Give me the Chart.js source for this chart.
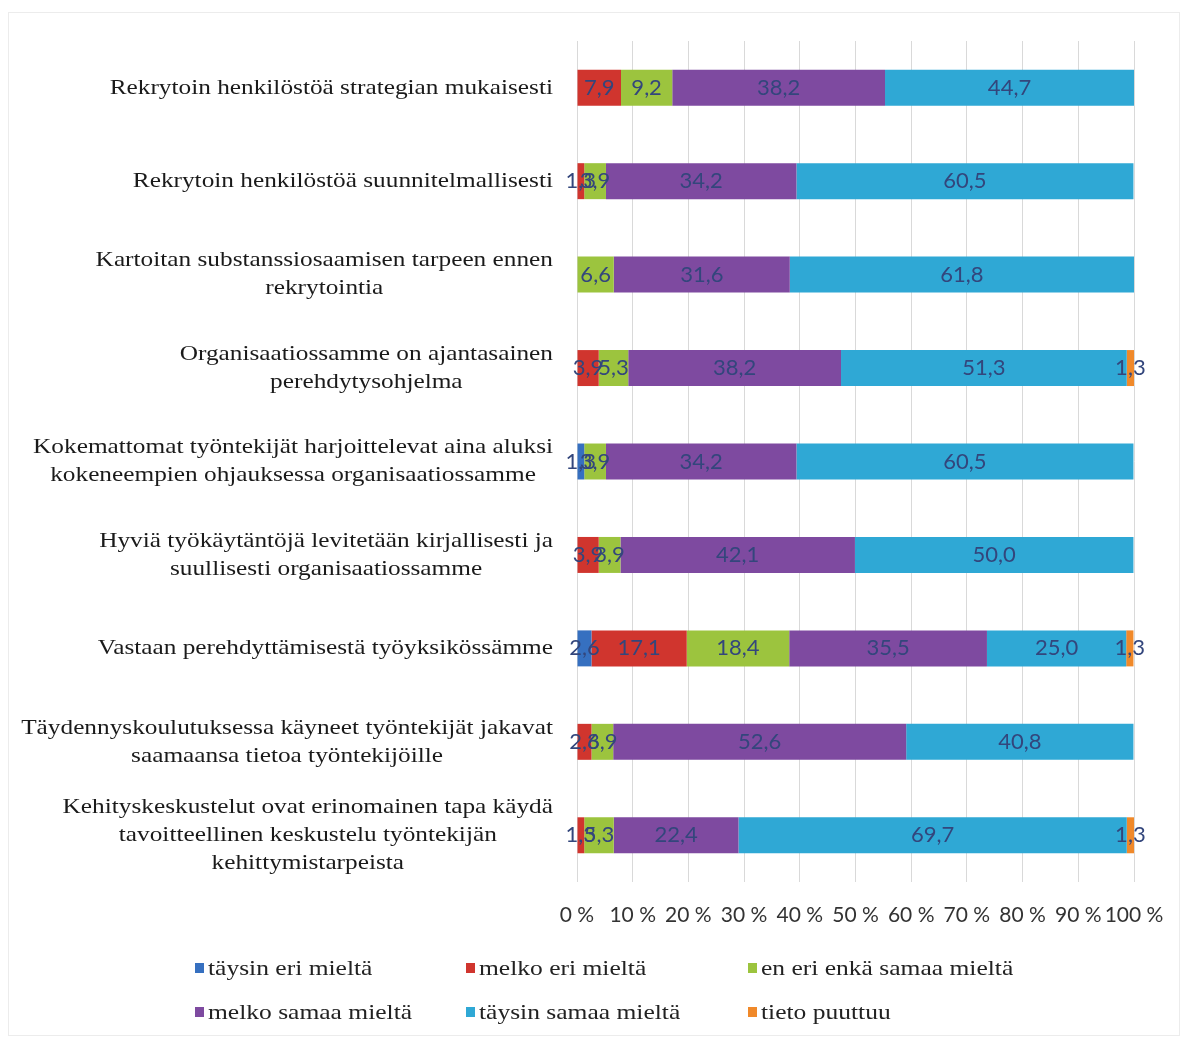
<!DOCTYPE html>
<html>
<head>
<meta charset="utf-8">
<script src="https://cdn.jsdelivr.net/npm/chart.js@4.4.1/dist/chart.umd.min.js"></script>
<style>
  html, body { margin: 0; padding: 0; background: #fff; }
  #wrap { position: relative; width: 1186px; height: 1041px; overflow: hidden; }
  #frame { position: absolute; left: 8px; top: 12px; width: 1172px; height: 1024px; border: 1px solid #ececec; box-sizing: border-box; }
  #chart { position: absolute; left: 0; top: 0; }
  #legend { position: absolute; left: 0; top: 0; width: 1186px; height: 1041px;
    font-family: 'Liberation Serif', 'Times New Roman', serif; font-size: 22px; color: #222; }
  .item { position: absolute; display: flex; align-items: center; white-space: nowrap; line-height: 26px; }
  .box { width: 9px; height: 10px; margin-right: 4px; flex: none; }
  .txt { display: inline-block; transform: scaleX(1.16); transform-origin: left center; }
</style>
</head>
<body>
<div id="wrap">
  <div id="frame"></div>
  <canvas id="chart" width="1186" height="945"></canvas>
  <div id="legend"></div>
</div>
<script>
// ============================================
// DATA
// ============================================
const categories = [
  ['Rekrytoin henkilöstöä strategian mukaisesti'],
  ['Rekrytoin henkilöstöä suunnitelmallisesti'],
  ['Kartoitan substanssiosaamisen tarpeen ennen', 'rekrytointia'],
  ['Organisaatiossamme on ajantasainen', 'perehdytysohjelma'],
  ['Kokemattomat työntekijät harjoittelevat aina aluksi', 'kokeneempien ohjauksessa organisaatiossamme'],
  ['Hyviä työkäytäntöjä levitetään kirjallisesti ja', 'suullisesti organisaatiossamme'],
  ['Vastaan perehdyttämisestä työyksikössämme'],
  ['Täydennyskoulutuksessa käyneet työntekijät jakavat', 'saamaansa tietoa työntekijöille'],
  ['Kehityskeskustelut ovat erinomainen tapa käydä', 'tavoitteellinen keskustelu työntekijän', 'kehittymistarpeista']
];

const seriesNames = ['täysin eri mieltä', 'melko eri mieltä', 'en eri enkä samaa mieltä',
  'melko samaa mieltä', 'täysin samaa mieltä', 'tieto puuttuu'];
const seriesColors = ['#3670c0', '#d0352e', '#9cc43e', '#7e4aa0', '#2fa8d5', '#f0892a'];

const taysinEri    = [0, 0, 0, 0, 1.3, 0, 2.6, 0, 0];
const melkoEri     = [7.9, 1.3, 0, 3.9, 0, 3.9, 17.1, 2.6, 1.3];
const enEriEnka    = [9.2, 3.9, 6.6, 5.3, 3.9, 3.9, 18.4, 3.9, 5.3];
const melkoSamaa   = [38.2, 34.2, 31.6, 38.2, 34.2, 42.1, 35.5, 52.6, 22.4];
const taysinSamaa  = [44.7, 60.5, 61.8, 51.3, 60.5, 50.0, 25.0, 40.8, 69.7];
const tietoPuuttuu = [0, 0, 0, 1.3, 0, 0, 1.3, 0, 1.3];

const seriesValues = [taysinEri, melkoEri, enEriEnka, melkoSamaa, taysinSamaa, tietoPuuttuu];

// ============================================
// PLUGINS
// ============================================
// value labels in the middle of each segment, finnish decimal comma
const valueLabels = {
  id: 'valueLabels',
  afterDatasetsDraw(chart) {
    const ctx = chart.ctx;
    ctx.save();
    ctx.font = '22px Lato';
    ctx.fillStyle = '#33467c';
    ctx.textAlign = 'center';
    ctx.textBaseline = 'middle';
    chart.data.datasets.forEach((ds, di) => {
      chart.getDatasetMeta(di).data.forEach((bar, i) => {
        const v = ds.data[i];
        if (!v) return;
        ctx.fillText(v.toFixed(1).replace('.', ','), (bar.x + bar.base) / 2, bar.y);
      });
    });
    ctx.restore();
  }
};

// category labels: block right aligned, lines centred inside the block
// (text is a bit stretched sideways in the original, hence the scale)
const categoryLabels = {
  id: 'categoryLabels',
  afterDraw(chart) {
    const ctx = chart.ctx;
    const yScale = chart.scales.y;
    const right = chart.chartArea.left - 24;
    const lineH = 28;
    const sx = 1.15;
    ctx.save();
    ctx.font = '22px "Liberation Serif"';
    ctx.fillStyle = '#1a1a1a';
    ctx.textAlign = 'center';
    ctx.textBaseline = 'middle';
    ctx.scale(sx, 1);
    categories.forEach((lines, i) => {
      const w = Math.max(...lines.map(l => ctx.measureText(l).width)) * sx;
      const cx = right - w / 2;
      const cy = yScale.getPixelForValue(i);
      lines.forEach((l, k) => ctx.fillText(l, cx / sx, cy + (k - (lines.length - 1) / 2) * lineH));
    });
    ctx.restore();
  }
};

// ============================================
// CHART
// ============================================
new Chart(document.getElementById('chart'), {
  type: 'bar',
  data: {
    labels: categories,
    datasets: seriesNames.map((name, i) => ({
      label: name,
      data: seriesValues[i],
      backgroundColor: seriesColors[i],
      borderWidth: 0,
      categoryPercentage: 1,
      barPercentage: 0.385
    }))
  },
  options: {
    indexAxis: 'y',
    responsive: false,
    animation: false,
    layout: { padding: { top: 41, right: 52, bottom: 0, left: 0 } },
    plugins: { legend: { display: false }, tooltip: { enabled: false } },
    scales: {
      x: {
        stacked: true, min: 0, max: 100,
        afterFit: (s) => { s.height = 63; },
        grid: { color: '#d9d9d9', drawTicks: false },
        border: { display: false },
        ticks: {
          stepSize: 10, padding: 21, color: '#333',
          maxRotation: 0, minRotation: 0, autoSkip: false,
          font: { family: 'Lato', size: 21 },
          callback: (v) => v + ' %'
        }
      },
      y: {
        stacked: true,
        afterFit: (s) => { s.width = 577; },
        grid: { display: false },
        border: { display: false },
        ticks: { display: false }
      }
    }
  },
  plugins: [valueLabels, categoryLabels]
});

// ============================================
// LEGEND (html)
// ============================================
const legendCols = [195, 466, 748];
const legendRows = [955, 999];
const legend = document.getElementById('legend');
seriesNames.forEach((name, i) => {
  const item = document.createElement('div');
  item.className = 'item';
  item.style.left = legendCols[i % 3] + 'px';
  item.style.top = legendRows[Math.floor(i / 3)] + 'px';
  item.innerHTML = `<span class="box" style="background:${seriesColors[i]}"></span><span class="txt">${name}</span>`;
  legend.appendChild(item);
});
</script>
</body>
</html>
